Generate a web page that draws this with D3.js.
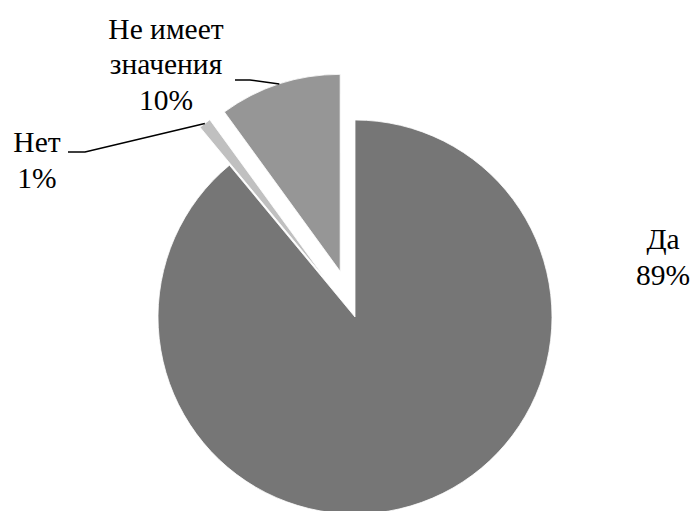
<!DOCTYPE html>
<html>
<head>
<meta charset="utf-8">
<script src="https://cdn.jsdelivr.net/npm/d3@7"></script>
<style>
  html, body { margin: 0; padding: 0; background: #fff; }
  svg { display: block; }
</style>
</head>
<body>
<svg id="chart" width="697" height="511"></svg>
<script>
// Survey answers and their shares (percent)
const categories = ["Да", "Нет", "Не имеет значения"];
const values = [89, 1, 10];
const labelLines = [["Да", "89%"], ["Нет", "1%"], ["Не имеет", "значения", "10%"]];
const colors = ["#767676", "#c0c0c0", "#969696"];

// Layout
const W = 697, H = 511;
const cx = 355, cy = 317, R = 197;
const explode = [0, 48, 48];
const lineH = 35.5;
const fontFamily = "'Liberation Serif', 'Times New Roman', 'Liberation Sans', sans-serif";
// label block centre x and first baseline y, plus leader line start (label side)
const labelPos = [
  { x: 663, y: 249, leader: null },
  { x: 37, y: 152, leader: [[68, 152], [85, 152]] },
  { x: 166, y: 38.5, leader: [[235, 80], [250, 80]] }
];

const svg = d3.select("#chart");
const g = svg.append("g").attr("transform", `translate(${cx},${cy})`);

const pie = d3.pie().sort(null).value(d => d)(values);
const arc = d3.arc().innerRadius(0).outerRadius(R);

// exploded slices move outward along their bisector
function offset(d, i) {
  const a = (d.startAngle + d.endAngle) / 2;
  return [Math.sin(a) * explode[i], -Math.cos(a) * explode[i]];
}

g.selectAll("path.slice")
  .data(pie)
  .join("path")
  .attr("class", "slice")
  .attr("d", arc)
  .attr("fill", (d, i) => colors[i])
  .attr("stroke", "#fff")
  .attr("stroke-width", 0.8)
  .attr("transform", (d, i) => {
    const [ox, oy] = offset(d, i);
    return `translate(${ox},${oy})`;
  });

// Leader lines from labels to the outer edge of their slices
pie.forEach((d, i) => {
  const lp = labelPos[i];
  if (!lp.leader) return;
  const a = (d.startAngle + d.endAngle) / 2;
  const [ox, oy] = offset(d, i);
  const end = [cx + ox + Math.sin(a) * R, cy + oy - Math.cos(a) * R];
  const pts = lp.leader.concat([end]);
  svg.append("path")
    .attr("d", d3.line()(pts))
    .attr("fill", "none")
    .attr("stroke", "#000")
    .attr("stroke-width", 1.6);
});

// Category labels with percentages
labelPos.forEach((lp, i) => {
  const t = svg.append("text")
    .attr("text-anchor", "middle")
    .style("font-family", fontFamily)
    .style("font-size", "29.5px")
    .attr("fill", "#000");
  labelLines[i].forEach((s, j) => {
    t.append("tspan").attr("x", lp.x).attr("y", lp.y + j * lineH).text(s);
  });
});
</script>
</body>
</html>
